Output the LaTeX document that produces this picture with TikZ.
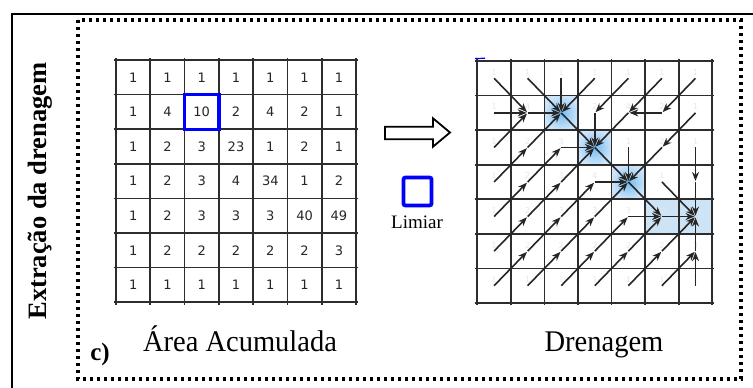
\documentclass[tikz,border=0pt]{standalone}
\usepackage{fontspec}
\setmainfont{Liberation Serif}
\newfontfamily\digitfont{DejaVu Sans}
\usetikzlibrary{arrows.meta}

\definecolor{gridline}{RGB}{45,45,45}
\definecolor{hubblue}{RGB}{115,188,240}
\definecolor{paleblue}{RGB}{205,228,249}
\definecolor{chanblue}{RGB}{205,228,247}

\tikzset{
  outerframe/.style={line width=2pt, black},
  dotframe/.style={line width=3.2pt, dash pattern=on 3.2pt off 3.8pt, black},
  gridrule/.style={line width=1.7pt, gridline},
  cellnum/.style={font=\digitfont\fontsize{13}{13}\selectfont, text=black!85, inner sep=0pt},
  ghostnum/.style={font=\digitfont\fontsize{8}{8}\selectfont, text=black!9, inner sep=0pt},
  flow/.style={line width=1.6pt, black!85, -{Stealth[length=9pt,width=7pt]}, shorten >=1pt},
  caption/.style={font=\fontsize{30}{30}\selectfont, inner sep=0pt, xscale=0.95, anchor=base},
  sidetitle/.style={font=\bfseries\fontsize{26.5}{26.5}\selectfont, inner sep=0pt, rotate=90},
  hubcell/.style={shading=radial, inner color=hubblue, outer color=paleblue},
}

\begin{document}
\begin{tikzpicture}[x=1pt, y=-1pt]
\useasboundingbox (0,0) rectangle (753,388);
\fill[white] (0,0) rectangle (753,388);

% frames
\draw[outerframe] (12,392) -- (12,14) -- (756,14);
\draw[dotframe] (78,20) rectangle (741,379);

% side title and panel letter
\node[sidetitle] (side) at (40,191) {Extração da drenagem};
\node[font=\bfseries\fontsize{25}{25}\selectfont, inner sep=0pt, anchor=base] (lett) at (100,360) {c)};

% ---------- accumulated area grid ----------
\foreach \row [count=\r] in {{1,1,1,1,1,1,1},{1,4,10,2,4,2,1},{1,2,3,23,1,2,1},{1,2,3,4,34,1,2},{1,2,3,3,3,40,49},{1,2,2,2,2,2,3},{1,1,1,1,1,1,1}}{
  \foreach \v [count=\c] in \row {
    \node[cellnum] (a-\r-\c) at ({116+(\c-0.5)*34.29},{60+(\r-0.5)*34.6}) {\v};
  }
}
\foreach \i in {0,...,7}{
  \draw[gridrule] ({116+\i*34.29},58) -- ({116+\i*34.29},304.5);
  \draw[gridrule] (114,{60+\i*34.6}) -- (358,{60+\i*34.6});
}
\draw[blue, line width=3.3pt] ({116+2*34.29},{60+34.6}) rectangle ({116+3*34.29},{60+2*34.6});

\node[caption] (acc) at (240,351) {Área Acumulada};

% ---------- transition arrow and threshold key ----------
\draw[line width=1.8pt, line join=miter] (385,126.7) -- (433,126.7) -- (433,118.3) -- (450,132.5) -- (433,146.7) -- (433,139.3) -- (385,139.3) -- cycle;
\draw[blue, line width=3.8pt, rounded corners=2pt] (403.5,177.5) rectangle (431.5,205.5);
\node[font=\fontsize{19}{19}\selectfont, inner sep=0pt] (lim) at (417,222) {Limiar};

% ---------- drainage grid ----------
\foreach \r/\c in {2/3,3/4,4/5}{
  \shade[hubcell] ({477.3+(\c-1)*33.57},{61+(\r-1)*34.57}) rectangle ({477.3+\c*33.57},{61+\r*34.57});
}
\fill[chanblue] ({477.3+5*33.57},{61+4*34.57}) rectangle ({477.3+7*33.57},{61+5*34.57});

\foreach \row [count=\r] in {{1,1,1,1,1,1,1},{1,4,10,2,4,2,1},{1,2,3,23,1,2,1},{1,2,3,4,34,1,2},{1,2,3,3,3,40,49},{1,2,2,2,2,2,3},{1,1,1,1,1,1,1}}{
  \foreach \v [count=\c] in \row {
    \coordinate (d-\r-\c) at ({477.3+(\c-0.5)*33.57},{61+(\r-0.5)*34.57});
    \node[ghostnum] at ({477.3+(\c-0.5)*33.57},{61+(\r-0.5)*34.57-6}) {\v};
  }
}
\foreach \i in {0,...,7}{
  \draw[gridrule] ({477.3+\i*33.57},59) -- ({477.3+\i*33.57},305);
  \draw[gridrule] (475.3,{61+\i*34.57}) -- (714.3,{61+\i*34.57});
}
\draw[blue, line width=1.2pt] (475,58.6) -- (485,58.2);

% flow directions, cell to cell
\foreach \a/\b/\p/\q in {
  1/1/2/2, 1/2/2/3, 1/3/2/3, 1/4/2/3, 1/5/2/4, 1/6/2/5, 1/7/2/6,
  2/1/2/2, 2/2/2/3, 2/3/3/4, 2/4/3/4, 2/5/3/4, 2/6/2/5, 2/7/3/6,
  3/1/2/2, 3/2/2/3, 3/3/3/4, 3/4/4/5, 3/5/4/5, 3/6/4/5, 3/7/4/7,
  4/1/3/2, 4/2/3/3, 4/3/3/4, 4/4/4/5, 4/5/5/6, 4/6/5/7, 4/7/5/7,
  5/1/4/2, 5/2/4/3, 5/3/4/4, 5/4/4/5, 5/5/5/6, 5/6/5/7,
  6/1/5/2, 6/2/5/3, 6/3/5/4, 6/4/5/5, 6/5/5/6, 6/6/5/7, 6/7/5/7,
  7/1/6/2, 7/2/6/3, 7/3/6/4, 7/4/6/5, 7/5/6/6, 7/6/6/7, 7/7/6/7}{
  \draw[flow] (d-\a-\b) -- (d-\p-\q);
}

\node[caption] (dren) at (604,351) {Drenagem};
\end{tikzpicture}
\end{document}
